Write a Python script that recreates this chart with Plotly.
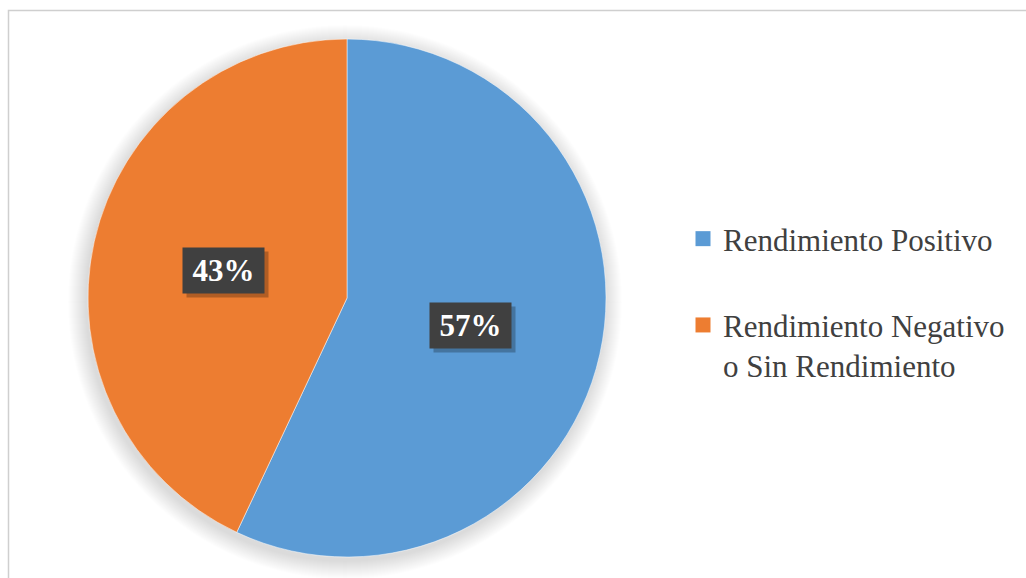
import math
import plotly.graph_objects as go

# ---- data ----
categories = ["Rendimiento Positivo", "Rendimiento Negativo o Sin Rendimiento"]
legend_labels = ["Rendimiento Positivo", "Rendimiento Negativo<br>o Sin Rendimiento"]
values = [57, 43]
colors = ["#5B9BD5", "#ED7D31"]

# ---- layout constants ----
W, H = 1026, 578
cx, cy, R = 347, 298, 259
SERIF = "Liberation Serif, Times New Roman, serif"

fig = go.Figure()

fig.add_trace(go.Pie(
    labels=categories,
    values=values,
    marker=dict(colors=colors, line=dict(color="white", width=0.5)),
    sort=False,
    direction="clockwise",
    rotation=0,
    textinfo="none",
    hoverinfo="label+percent",
    showlegend=False,
    domain=dict(x=[(cx - R) / W, (cx + R) / W], y=[1 - (cy + R) / H, 1 - (cy - R) / H]),
))

# legend entries (dummy square markers)
for i, (lab, col) in enumerate(zip(legend_labels, colors)):
    fig.add_trace(go.Scatter(
        x=[None], y=[None], mode="markers", name=lab,
        marker=dict(symbol="square", size=15, color=col),
        legendgroup=f"g{i}", showlegend=True, hoverinfo="skip",
    ))

# percentage labels as boxed annotations at half radius along the slice mid-angle
total = sum(values)
cum = 0.0
for v in values:
    mid = (cum + v / 2) / total * 2 * math.pi  # clockwise from 12 o'clock
    cum += v
    px = cx + 0.49 * R * math.sin(mid)
    py = cy - 0.49 * R * math.cos(mid)
    txt = f"<b>{round(v / total * 100)}%</b>"
    common = dict(x=px / W, y=1 - py / H, xref="paper", yref="paper",
                  xanchor="center", yanchor="middle",
                  showarrow=False, width=65, height=29, borderpad=8)
    # shadow box
    fig.add_annotation(**common, text=" ", xshift=4, yshift=-4,
                       font=dict(family=SERIF, size=31, color="rgba(0,0,0,0)"),
                       bgcolor="rgba(0,0,0,0.25)")
    fig.add_annotation(**common, text=txt,
                       font=dict(family=SERIF, size=31, color="white"),
                       bgcolor="#404040")

# soft shadow behind the pie
for k in range(1, 19):
    r = R + k
    fig.add_shape(type="circle", xref="paper", yref="paper",
                  x0=(cx - 2 - r) / W, x1=(cx - 2 + r) / W,
                  y0=1 - (cy + 4 + r) / H, y1=1 - (cy + 4 - r) / H,
                  line=dict(width=0), fillcolor="rgba(0,0,0,0.008)", layer="below")

# chart frame
fig.add_shape(type="rect", xref="paper", yref="paper",
              x0=8.5 / W, x1=1.02, y0=-0.05, y1=1 - 10.5 / H,
              line=dict(color="#CFCFCF", width=1.5), fillcolor="rgba(0,0,0,0)", layer="below")

fig.update_layout(
    width=W, height=H,
    margin=dict(l=0, r=0, t=0, b=0),
    paper_bgcolor="white", plot_bgcolor="white",
    xaxis=dict(visible=False), yaxis=dict(visible=False),
    legend=dict(
        x=683 / W, y=1 - 212 / H, xanchor="left", yanchor="top",
        font=dict(family=SERIF, size=31, color="#404040"),
        valign="top", tracegroupgap=43, bgcolor="rgba(0,0,0,0)",
        itemclick=False, itemdoubleclick=False,
    ),
)

fig.write_html("out.html", config={"displayModeBar": False},
               post_script="document.body.style.margin='0';")
